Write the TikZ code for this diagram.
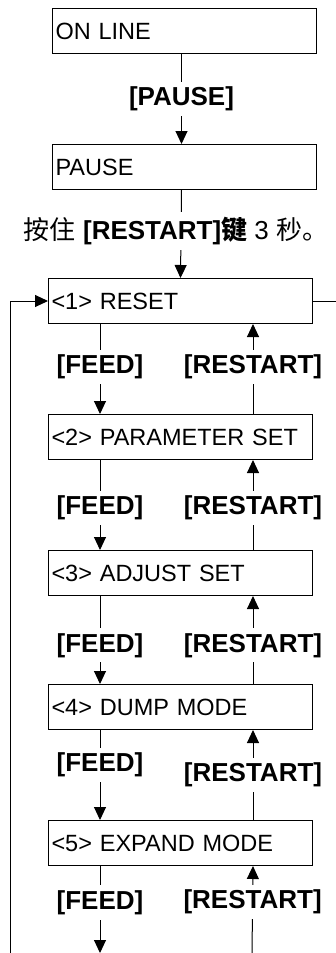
\documentclass[tikz,border=0pt]{standalone}
\usepackage{fontspec}
\setmainfont{Liberation Sans}
\newfontfamily\cjk{Noto Sans CJK SC}
\usetikzlibrary{arrows.meta}
\begin{document}
\begin{tikzpicture}[x=1pt,y=-1pt,
  box/.style={draw,line width=1pt,rectangle,minimum height=45pt,text width=258pt,inner xsep=3pt,inner ysep=0pt,align=left,font=\fontsize{23.5}{28}\selectfont,anchor=north west},
  lbl/.style={fill=white,inner xsep=2pt,inner ysep=5pt,font=\fontsize{26}{30}\selectfont\bfseries},
  arr/.style={line width=1pt,-{Triangle[width=12pt,length=13pt]}},
  ln/.style={line width=1pt}]
\useasboundingbox (0,0) rectangle (336,953);
\node[box] (on) at (52,8) {ON LINE};
\node[box] (pa) at (52,144) {PAUSE};
\node[box] (b1) at (48,278) {<1> RESET};
\node[box] (b2) at (48,414) {<2> PARAMETER SET};
\node[box] (b3) at (48,550) {<3> ADJUST SET};
\node[box] (b4) at (48,684) {<4> DUMP MODE};
\node[box] (b5) at (48,820) {<5> EXPAND MODE};
\coordinate (loopbot) at (10,953);
\coordinate (rend) at (336,301);
\coordinate (fbot) at (100,953);
\coordinate (rbot) at (252,953);
% top arrows
\draw[arr] ([xshift=-3pt]on.south) -- node[lbl]{[PAUSE]} ([xshift=-3pt]pa.north);
\draw[arr] ([xshift=-3pt]pa.south) -- node[lbl,pos=0.47,xshift=-5pt,font=\fontsize{26}{30}\selectfont]{{\cjk 按住} \textbf{[RESTART]}{\cjk\bfseries 键} 3 {\cjk 秒。}} (b1.north);
% loop
\draw[arr] (loopbot) |- (b1.west);
\draw[ln] (b1.east) -- (rend);
% FEED arrows
\draw[arr] ([xshift=52pt]b1.south west) -- node[lbl,pos=0.48]{[FEED]} ([xshift=52pt]b2.north west);
\draw[arr] ([xshift=52pt]b2.south west) -- node[lbl,pos=0.53]{[FEED]} ([xshift=52pt]b3.north west);
\draw[arr] ([xshift=52pt]b3.south west) -- node[lbl,pos=0.56]{[FEED]} ([xshift=52pt]b4.north west);
\draw[arr] ([xshift=52pt]b4.south west) -- node[lbl,pos=0.39]{[FEED]} ([xshift=52pt]b5.north west);
\draw[arr] ([xshift=52pt]b5.south west) -- node[lbl,pos=0.42]{[FEED]} (fbot);
% RESTART arrows
\draw[arr] ([xshift=-60pt]b2.north east) -- node[lbl,pos=0.52]{[RESTART]} ([xshift=-60pt]b1.south east);
\draw[arr] ([xshift=-60pt]b3.north east) -- node[lbl,pos=0.47]{[RESTART]} ([xshift=-60pt]b2.south east);
\draw[arr] ([xshift=-60pt]b4.north east) -- node[lbl,pos=0.44]{[RESTART]} ([xshift=-60pt]b3.south east);
\draw[arr] ([xshift=-60pt]b5.north east) -- node[lbl,pos=0.5]{[RESTART]} ([xshift=-60pt]b4.south east);
\draw[arr] (rbot) -- node[lbl,pos=0.59]{[RESTART]} ([xshift=-60pt]b5.south east);
\end{tikzpicture}
\end{document}
